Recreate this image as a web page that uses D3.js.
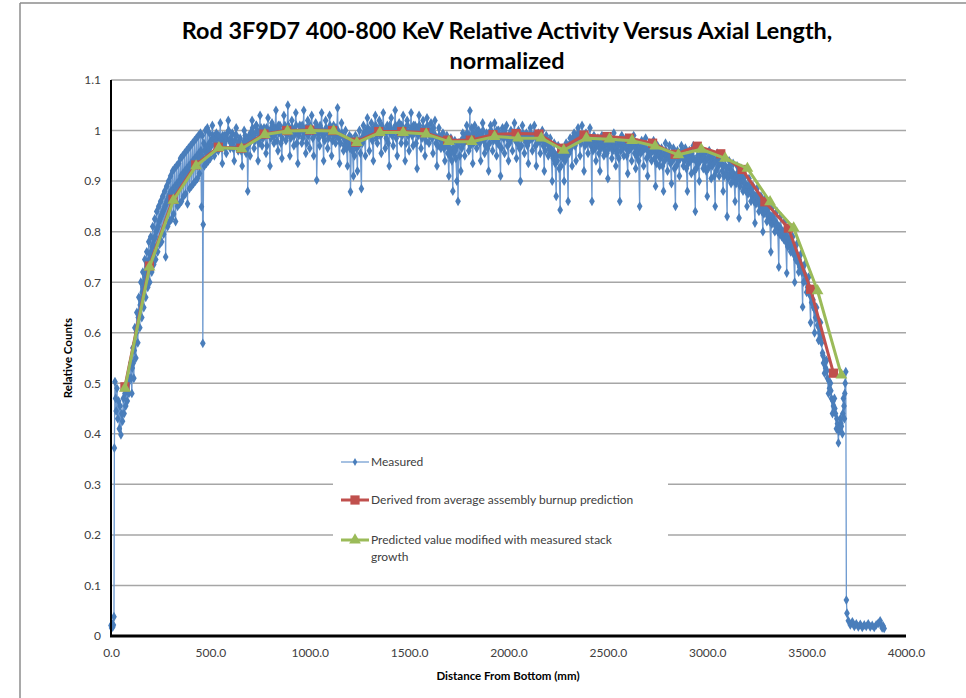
<!DOCTYPE html>
<html><head><meta charset="utf-8">
<script src="https://cdn.jsdelivr.net/npm/d3@7"></script>
<style>body{margin:0;background:#fff;} svg{display:block;font-family:Lato,"Liberation Sans",sans-serif;}</style>
</head><body>
<svg id="chart" width="966" height="698"></svg>
<script>
const titleLines = ["Rod 3F9D7 400-800 KeV Relative Activity Versus Axial Length,", "normalized"];
const xAxisTitle = "Distance From Bottom (mm)";
const yAxisTitle = "Relative Counts";
const yTicks = [0, 0.1, 0.2, 0.3, 0.4, 0.5, 0.6, 0.7, 0.8, 0.9, 1, 1.1];
const yTickLabels = ["0", "0.1", "0.2", "0.3", "0.4", "0.5", "0.6", "0.7", "0.8", "0.9", "1", "1.1"];
const xTicks = [0, 500, 1000, 1500, 2000, 2500, 3000, 3500, 4000];
const xTickLabels = ["0.0", "500.0", "1000.0", "1500.0", "2000.0", "2500.0", "3000.0", "3500.0", "4000.0"];
const seriesNames = ["Measured", "Derived from average assembly burnup prediction", "Predicted value modified with measured stack growth"];

const derivedX = [70, 193, 312, 426, 540, 654, 770, 884, 1000, 1115, 1231, 1347, 1463, 1579, 1694, 1808, 1922, 2038, 2153, 2268, 2380, 2496, 2609, 2725, 2838, 2950, 3068, 3175, 3290, 3408, 3520, 3635];
const derivedY = [0.493, 0.732, 0.864, 0.932, 0.967, 0.965, 0.993, 1.0, 1.001, 1.0, 0.977, 0.998, 0.998, 0.996, 0.981, 0.981, 0.992, 0.994, 0.993, 0.965, 0.991, 0.988, 0.985, 0.975, 0.953, 0.969, 0.954, 0.923, 0.859, 0.807, 0.686, 0.520];
const predictedX = [70, 194, 314, 428, 543, 657, 774, 888, 1005, 1120, 1237, 1353, 1470, 1586, 1700, 1815, 1930, 2048, 2165, 2278, 2392, 2508, 2622, 2738, 2855, 2970, 3090, 3202, 3316, 3435, 3555, 3675];
const predictedY = [0.490, 0.730, 0.862, 0.930, 0.966, 0.964, 0.992, 0.999, 1.0, 0.999, 0.976, 0.996, 0.996, 0.993, 0.978, 0.978, 0.988, 0.985, 0.985, 0.961, 0.985, 0.983, 0.980, 0.969, 0.952, 0.963, 0.945, 0.925, 0.859, 0.807, 0.683, 0.516];

// measured readings [distance mm, relative counts] — band edges and spikes
const measuredEdges = [
[0,0.021],[3,0.016],[6,0.024],[9,0.018],[12,0.022],[15,0.038],[17,0.372],[20,0.503],[23,0.47],
[26,0.445],[30,0.49],[34,0.43],[38,0.465],[42,0.41],[46,0.455],[50,0.398],[54,0.44],[58,0.425],[62,0.47],
[66,0.44],[70,0.48],[74,0.455],[78,0.49],[82,0.465],[86,0.50],[90,0.48],[95,0.51],
[100,0.54],[105,0.48],[110,0.57],[115,0.51],[120,0.61],[125,0.55],[130,0.64],[135,0.58],[140,0.67],[145,0.61],
[150,0.70],[155,0.63],[160,0.72],[165,0.65],[170,0.745],[175,0.67],[180,0.76],[185,0.69],[190,0.78],[195,0.70],
[200,0.79],[205,0.72],[210,0.81],[215,0.735],[220,0.825],[225,0.745],[230,0.84],[235,0.76],[240,0.85],[245,0.775],
[250,0.86],[255,0.78],[260,0.87],[265,0.795],[270,0.88],[275,0.75],[280,0.89],[285,0.81],[290,0.90],[295,0.82],
[300,0.91],[305,0.825],[310,0.92],[315,0.835],[320,0.925],[325,0.82],[330,0.93],[335,0.85],[340,0.935],[345,0.855],
[350,0.945],[355,0.86],[360,0.95],[365,0.87],[370,0.955],[375,0.875],[380,0.96],[385,0.855],[390,0.965],[395,0.885],
[400,0.97],[405,0.89],[410,0.975],[415,0.895],[420,0.98],[425,0.90],[430,0.985],[435,0.905],[440,0.99],[445,0.915],
[450,0.995],[455,0.849],[460,0.99],[462,0.579],[464,0.814],[467,0.975],[470,0.93],[475,1.0],[480,0.935],[485,1.005],
[490,0.94],[495,0.995],[500,0.945],
[510,1.01],[520,0.95],[530,0.995],[540,0.96],[550,1.015],[560,0.935],[570,0.99],[580,0.955],[590,1.02],[600,0.965],
[610,0.995],[620,0.94],[630,1.005],[640,0.96],[650,0.985],[660,0.93],[670,1.0],[680,0.955],[688,0.88],[695,0.99],[700,0.95],
[710,1.02],[720,0.965],[730,1.01],[740,0.94],[750,1.03],[760,0.97],[770,1.005],[780,0.955],[790,1.025],[800,0.93],
[810,1.015],[820,0.975],[830,1.04],[840,0.96],[850,1.01],[860,0.945],[870,1.03],[880,0.98],[890,1.05],[900,0.95],
[910,1.02],[920,0.97],[930,1.035],[940,0.935],[950,1.01],[960,0.975],[970,1.04],[980,0.955],[990,1.02],[1000,0.965],
[1010,1.03],[1020,0.95],[1030,1.015],[1035,0.902],[1040,1.005],[1050,0.97],[1060,1.035],[1070,0.94],[1080,1.02],[1090,0.965],
[1100,1.03],[1110,0.95],[1120,1.01],[1130,0.975],[1140,1.045],[1150,0.935],[1160,1.015],[1170,0.96],[1180,1.0],[1190,0.93],
[1200,0.99],[1205,0.879],[1210,0.985],[1220,0.91],[1230,0.99],[1240,0.92],[1250,1.0],[1260,0.885],[1270,1.01],[1280,0.95],
[1290,1.025],[1300,0.96],[1310,1.015],[1320,0.94],[1330,1.03],[1340,0.975],[1350,1.02],[1360,0.955],[1370,1.035],[1380,0.965],
[1390,1.01],[1400,0.93],[1410,1.025],[1420,0.97],[1430,1.04],[1440,0.95],[1450,1.015],[1460,0.975],[1470,1.03],[1480,0.94],
[1490,1.02],[1500,0.96],[1510,1.035],[1520,0.97],[1530,1.01],[1540,0.925],[1550,1.03],[1560,0.965],[1570,1.02],[1580,0.95],
[1590,1.025],[1600,0.975],[1610,1.015],[1620,0.955],[1630,1.02],[1640,0.93],[1650,1.005],[1660,0.965],[1670,0.995],[1680,0.94],
[1690,0.99],[1700,0.91],[1710,0.985],[1720,0.88],[1730,0.98],[1740,0.90],[1746,0.86],[1750,0.975],[1760,0.92],[1770,0.995],
[1780,0.95],[1790,1.01],[1800,0.96],[1806,1.039],[1808,0.97],[1815,1.005],[1820,0.935],[1830,1.01],[1840,0.965],[1850,1.0],
[1860,0.94],[1870,1.015],[1880,0.955],[1890,0.995],[1900,0.92],[1910,1.01],[1920,0.96],[1930,1.015],[1940,0.95],[1950,1.0],
[1960,0.91],[1970,1.005],[1980,0.955],[1990,1.01],[2000,0.94],[2010,0.995],[2020,0.96],[2030,1.015],[2040,0.945],[2050,1.0],
[2060,0.90],[2070,1.01],[2080,0.955],[2090,0.995],[2100,0.935],[2110,1.005],[2120,0.96],[2130,1.01],[2140,0.93],[2150,0.995],
[2160,0.955],[2170,1.0],[2180,0.92],[2190,0.99],[2200,0.95],[2210,0.985],[2220,0.90],[2230,0.975],[2240,0.87],[2250,0.97],
[2260,0.843],[2270,0.965],[2280,0.90],[2290,0.975],[2300,0.86],[2310,0.985],[2320,0.93],[2330,0.995],[2340,0.94],[2350,1.005],
[2360,0.95],[2370,1.01],[2380,0.92],[2390,0.995],[2400,0.955],[2410,1.005],[2420,0.86],[2430,0.99],[2440,0.94],[2450,0.985],
[2460,0.92],[2470,0.99],[2480,0.95],[2490,0.98],[2500,0.905],[2510,0.985],[2520,0.945],[2530,0.995],[2540,0.93],[2550,0.98],
[2560,0.86],[2570,0.99],[2580,0.95],[2590,0.985],[2600,0.915],[2610,0.98],[2620,0.94],[2630,0.99],[2640,0.925],[2650,0.975],
[2660,0.85],[2670,0.98],[2680,0.93],[2690,0.985],[2700,0.91],[2710,0.975],[2720,0.94],[2730,0.98],[2740,0.89],[2750,0.97],
[2760,0.93],[2770,0.965],[2780,0.88],[2790,0.975],[2800,0.92],[2810,0.97],[2820,0.895],[2830,0.965],[2840,0.85],[2850,0.96],
[2860,0.91],[2870,0.97],[2880,0.93],[2890,0.965],[2900,0.88],[2910,0.96],[2920,0.915],[2930,0.97],[2940,0.84],[2950,0.965],
[2960,0.90],[2970,0.96],[2980,0.925],[2990,0.955],[3000,0.87],[3010,0.96],[3020,0.905],[3030,0.95],[3040,0.85],[3050,0.955],
[3060,0.91],[3070,0.95],[3080,0.88],[3090,0.945],[3100,0.83],[3110,0.94],[3120,0.895],[3130,0.935],[3140,0.86],[3150,0.93],
[3160,0.827],[3170,0.925],[3180,0.88],[3190,0.91],[3200,0.85],[3210,0.905],[3220,0.86],[3230,0.89],[3240,0.817],[3250,0.885],
[3260,0.84],[3270,0.87],[3280,0.80],[3290,0.865],[3300,0.82],[3310,0.855],[3320,0.76],[3330,0.85],[3340,0.80],[3350,0.84],
[3360,0.73],[3370,0.83],[3380,0.79],[3390,0.82],[3400,0.718],[3410,0.805],[3420,0.76],[3430,0.79],[3440,0.70],[3450,0.775],
[3460,0.72],[3470,0.755],[3480,0.651],[3490,0.735],[3500,0.68],[3510,0.71],[3520,0.62],[3530,0.685],[3540,0.60],[3550,0.65],
[3560,0.585],[3570,0.62],[3580,0.56],[3590,0.52],[3600,0.545],[3610,0.48],[3620,0.50],[3630,0.44],[3640,0.47],[3650,0.41],
[3660,0.382],[3670,0.43],[3680,0.40],[3685,0.47],[3690,0.43],[3694,0.50],[3697,0.523],
[3700,0.071],[3703,0.045],[3710,0.03],[3720,0.022],[3730,0.028],[3740,0.019],[3750,0.024],[3760,0.018],[3770,0.023],[3780,0.017],
[3790,0.022],[3800,0.019],[3810,0.024],[3820,0.018],[3830,0.021],[3840,0.017],[3850,0.022],[3860,0.025],[3870,0.03],[3875,0.022],
[3880,0.016],[3885,0.02],[3890,0.015]
];

// measured readings in between — band body
const measuredBody = [
[505,0.97],[515,0.985],[525,0.96],[535,0.99],[545,0.975],[555,0.97],[565,0.985],[575,0.965],[585,0.995],[595,0.98],
[605,0.975],[615,0.965],[625,0.99],[635,0.97],[645,0.98],[655,0.96],[665,0.975],[675,0.99],[685,0.965],[698,0.975],
[705,0.985],[715,0.995],[725,0.98],[735,1.0],[745,0.975],[755,1.005],[765,0.985],[775,0.995],[785,0.97],[795,1.0],
[805,0.985],[815,0.995],[825,1.005],[835,0.98],[845,0.995],[855,0.975],[865,1.0],[875,1.01],[885,0.99],[895,1.005],
[905,0.985],[915,0.995],[925,1.0],[935,0.975],[945,0.99],[955,1.005],[965,0.985],[975,1.0],[985,0.975],[995,0.995],
[1005,1.0],[1015,0.985],[1025,0.995],[1045,0.985],[1055,1.0],[1065,0.99],[1075,0.98],[1085,1.0],[1095,0.985],
[1105,0.995],[1115,0.98],[1125,1.0],[1135,0.99],[1145,0.985],[1155,0.975],[1165,0.99],[1175,0.97],[1185,0.965],[1195,0.975],
[1215,0.96],[1225,0.95],[1235,0.965],[1245,0.97],[1255,0.955],[1265,0.975],[1275,0.985],[1285,0.99],[1295,1.0],
[1305,0.99],[1315,0.98],[1325,1.0],[1335,0.985],[1345,1.0],[1355,0.99],[1365,0.995],[1375,1.0],[1385,0.985],[1395,0.975],
[1405,0.995],[1415,0.99],[1425,1.005],[1435,0.985],[1445,0.995],[1455,1.0],[1465,0.99],[1475,1.0],[1485,0.975],[1495,0.99],
[1505,1.0],[1515,0.99],[1525,0.995],[1535,0.975],[1545,0.99],[1555,1.0],[1565,0.985],[1575,0.995],[1585,0.98],[1595,0.995],
[1605,0.99],[1615,0.985],[1625,0.99],[1635,0.975],[1645,0.97],[1655,0.985],[1665,0.975],[1675,0.965],[1685,0.97],[1695,0.955],
[1705,0.95],[1715,0.94],[1725,0.955],[1735,0.945],[1755,0.95],[1765,0.965],[1775,0.975],[1785,0.98],[1795,0.985],
[1825,0.975],[1835,0.985],[1845,0.98],[1855,0.975],[1865,0.99],[1875,0.98],[1885,0.97],[1895,0.965],
[1905,0.975],[1915,0.99],[1925,0.98],[1935,0.985],[1945,0.975],[1955,0.97],[1965,0.965],[1975,0.985],[1985,0.99],[1995,0.97],
[2005,0.975],[2015,0.985],[2025,0.99],[2035,0.98],[2045,0.975],[2055,0.965],[2065,0.97],[2075,0.985],[2085,0.98],[2095,0.97],
[2105,0.98],[2115,0.985],[2125,0.99],[2135,0.97],[2145,0.975],[2155,0.98],[2165,0.985],[2175,0.97],[2185,0.96],[2195,0.975],
[2205,0.965],[2215,0.955],[2225,0.945],[2235,0.935],[2245,0.94],[2255,0.925],[2265,0.93],[2275,0.945],[2285,0.94],[2295,0.95],
[2305,0.955],[2315,0.965],[2325,0.975],[2335,0.97],[2345,0.98],[2355,0.985],[2365,0.975],[2375,0.99],[2385,0.97],[2395,0.975],
[2405,0.98],[2415,0.97],[2425,0.96],[2435,0.965],[2445,0.97],[2455,0.955],[2465,0.965],[2475,0.97],[2485,0.96],[2495,0.955],
[2505,0.965],[2515,0.97],[2525,0.96],[2535,0.97],[2545,0.955],[2555,0.945],[2565,0.96],[2575,0.965],[2585,0.97],[2595,0.95],
[2605,0.96],[2615,0.965],[2625,0.97],[2635,0.955],[2645,0.95],[2655,0.94],[2665,0.955],[2675,0.96],[2685,0.965],[2695,0.945],
[2705,0.95],[2715,0.955],[2725,0.96],[2735,0.945],[2745,0.935],[2755,0.95],[2765,0.945],[2775,0.93],[2785,0.94],[2795,0.95],
[2805,0.945],[2815,0.935],[2825,0.94],[2835,0.925],[2845,0.93],[2855,0.94],[2865,0.945],[2875,0.95],[2885,0.94],[2895,0.925],
[2905,0.935],[2915,0.94],[2925,0.945],[2935,0.92],[2945,0.925],[2955,0.935],[2965,0.94],[2975,0.945],[2985,0.93],[2995,0.92],
[3005,0.925],[3015,0.935],[3025,0.93],[3035,0.91],[3045,0.92],[3055,0.93],[3065,0.935],[3075,0.92],[3085,0.91],[3095,0.915],
[3105,0.905],[3115,0.915],[3125,0.91],[3135,0.90],[3145,0.895],[3155,0.905],[3165,0.89],[3175,0.90],[3185,0.885],[3195,0.88],
[3205,0.875],[3215,0.88],[3225,0.87],[3235,0.86],[3245,0.855],[3255,0.86],[3265,0.85],[3275,0.84],[3285,0.835],[3295,0.84],
[3305,0.83],[3315,0.82],[3325,0.815],[3335,0.82],[3345,0.81],[3355,0.80],[3365,0.795],[3375,0.79],[3385,0.785],[3395,0.78],
[3405,0.77],[3415,0.775],[3425,0.765],[3435,0.755],[3445,0.745],[3455,0.74],[3465,0.73],[3475,0.72],[3485,0.70],[3495,0.705],
[3505,0.69],[3515,0.675],[3525,0.66],[3535,0.65],[3545,0.63],[3555,0.615],[3565,0.60],[3575,0.58],[3585,0.54],[3595,0.53],
[3605,0.51],[3615,0.49],[3625,0.47],[3635,0.455],[3645,0.44],[3655,0.42],[3665,0.41],[3675,0.415]
];

// further measured readings — upper band body
const measuredUpper = [
[102,0.51],[107,0.53],[112,0.54],[117,0.565],[122,0.58],[127,0.60],[132,0.61],[137,0.63],[142,0.64],[147,0.655],
[152,0.665],[157,0.68],[162,0.69],[167,0.70],[172,0.71],[177,0.715],[182,0.73],[187,0.735],[192,0.745],[197,0.755],
[202,0.76],[207,0.77],[212,0.775],[217,0.785],[222,0.79],[227,0.80],[232,0.805],[237,0.81],[242,0.82],[247,0.825],
[252,0.83],[257,0.835],[262,0.84],[267,0.845],[272,0.85],[277,0.855],[282,0.86],[287,0.865],[292,0.87],[297,0.875],
[302,0.88],[307,0.87],[312,0.885],[317,0.875],[322,0.89],[327,0.88],[332,0.895],[337,0.89],[342,0.90],[347,0.895],
[352,0.91],[357,0.90],[362,0.915],[367,0.905],[372,0.92],[377,0.91],[382,0.925],[387,0.915],[392,0.93],[397,0.92],
[402,0.935],[407,0.925],[412,0.94],[417,0.93],[422,0.945],[427,0.935],[432,0.95],[437,0.94],[442,0.955],[447,0.945],
[452,0.96],[457,0.95],[472,0.96],[477,0.965],[482,0.955],[487,0.97],[492,0.96],[497,0.975],
[502,0.98],[512,0.99],[522,0.975],[532,0.985],[542,0.99],[552,0.98],[562,0.99],[572,0.975],[582,0.985],[592,1.0],
[602,0.985],[612,0.975],[622,0.98],[632,0.99],[642,0.975],[652,0.97],[662,0.965],[672,0.98],[682,0.975],[692,0.985],
[702,0.995],[712,1.005],[722,0.99],[732,1.01],[742,0.995],[752,0.985],[762,1.0],[772,0.99],[782,1.005],[792,0.995],
[802,1.0],[812,1.01],[822,0.99],[832,1.0],[842,1.01],[852,0.995],[862,0.985],[872,1.005],[882,0.995],[892,1.01],
[902,1.0],[912,1.005],[922,0.99],[932,1.01],[942,0.995],[952,1.0],[962,1.01],[972,0.995],[982,1.005],[992,0.99],
[1002,1.01],[1012,1.0],[1022,0.99],[1032,1.005],[1042,0.995],[1052,1.01],[1062,1.0],[1072,0.99],[1082,1.005],[1092,0.995],
[1102,1.01],[1112,1.0],[1122,0.99],[1132,1.005],[1142,1.0],[1152,0.99],[1162,0.995],[1172,0.985],[1182,0.98],[1192,0.97],
[1202,0.965],[1212,0.97],[1222,0.975],[1232,0.97],[1242,0.98],[1252,0.975],[1262,0.985],[1272,0.995],[1282,1.0],[1292,1.005],
[1302,1.0],[1312,0.995],[1322,1.005],[1332,1.01],[1342,0.995],[1352,1.005],[1362,1.01],[1372,1.0],[1382,0.995],[1392,1.005],
[1402,1.01],[1412,1.0],[1422,0.995],[1432,1.01],[1442,1.005],[1452,0.995],[1462,1.01],[1472,1.0],[1482,1.005],[1492,1.01],
[1502,0.995],[1512,1.005],[1522,1.01],[1532,1.0],[1542,1.005],[1552,1.01],[1562,0.995],[1572,1.005],[1582,1.0],[1592,1.01],
[1602,1.0],[1612,0.995],[1622,1.005],[1632,0.99],[1642,0.985],[1652,0.99],[1662,0.98],[1672,0.985],[1682,0.975],[1692,0.97],
[1702,0.965],[1712,0.96],[1722,0.965],[1732,0.96],[1742,0.97],[1752,0.975],[1762,0.98],[1772,0.985],[1782,0.99],[1792,0.995],
[1802,0.99],[1812,0.985],[1822,0.995],[1832,0.99],[1842,1.0],[1852,0.99],[1862,0.995],[1872,1.0],[1882,0.985],[1892,0.99],
[1902,0.995],[1912,1.0],[1922,0.99],[1932,0.995],[1942,1.0],[1952,0.985],[1962,0.99],[1972,0.995],[1982,1.0],[1992,0.985],
[2002,0.99],[2012,1.0],[2022,0.995],[2032,0.99],[2042,0.995],[2052,0.985],[2062,0.99],[2072,0.995],[2082,0.99],[2092,0.98],
[2102,0.99],[2112,0.995],[2122,0.985],[2132,0.99],[2142,0.985],[2152,0.99],[2162,0.98],[2172,0.985],[2182,0.975],[2192,0.98],
[2202,0.97],[2212,0.965],[2222,0.96],[2232,0.955],[2242,0.95],[2252,0.955],[2262,0.95],[2272,0.96],[2282,0.955],[2292,0.965],
[2302,0.97],[2312,0.975],[2322,0.985],[2332,0.98],[2342,0.99],[2352,0.995],[2362,0.99],[2372,0.985],[2382,0.99],[2392,0.98],
[2402,0.985],[2412,0.98],[2422,0.975],[2432,0.98],[2442,0.975],[2452,0.97],[2462,0.975],[2472,0.98],[2482,0.97],[2492,0.975],
[2502,0.97],[2512,0.975],[2522,0.98],[2532,0.975],[2542,0.965],[2552,0.97],[2562,0.975],[2572,0.97],[2582,0.975],[2592,0.965],
[2602,0.97],[2612,0.975],[2622,0.98],[2632,0.97],[2642,0.965],[2652,0.96],[2662,0.965],[2672,0.97],[2682,0.975],[2692,0.965],
[2702,0.96],[2712,0.965],[2722,0.97],[2732,0.96],[2742,0.955],[2752,0.96],[2762,0.955],[2772,0.95],[2782,0.955],[2792,0.96],
[2802,0.955],[2812,0.95],[2822,0.955],[2832,0.945],[2842,0.95],[2852,0.955],[2862,0.955],[2872,0.96],[2882,0.955],[2892,0.945],
[2902,0.95],[2912,0.955],[2922,0.955],[2932,0.945],[2942,0.94],[2952,0.95],[2962,0.95],[2972,0.955],[2982,0.945],[2992,0.94],
[3002,0.945],[3012,0.95],[3022,0.945],[3032,0.935],[3042,0.94],[3052,0.945],[3062,0.945],[3072,0.935],[3082,0.93],[3092,0.93],
[3102,0.925],[3112,0.93],[3122,0.92],[3132,0.915],[3142,0.91],[3152,0.915],[3162,0.905],[3172,0.91],[3182,0.90],[3192,0.895],
[3202,0.89],[3212,0.89],[3222,0.88],[3232,0.875],[3242,0.87],[3252,0.87],[3262,0.86],[3272,0.855],[3282,0.85],[3292,0.85],
[3302,0.845],[3312,0.835],[3322,0.83],[3332,0.83],[3342,0.82],[3352,0.815],[3362,0.81],[3372,0.805],[3382,0.80],[3392,0.795],
[3402,0.79],[3412,0.785],[3422,0.775],[3432,0.77],[3442,0.76],[3452,0.755],[3462,0.745],[3472,0.735],[3482,0.72],[3492,0.715],
[3502,0.70],[3512,0.69],[3522,0.675],[3532,0.665],[3542,0.645],[3552,0.63],[3562,0.61],[3572,0.59],[3582,0.555],[3592,0.545],
[3602,0.525],[3612,0.505],[3622,0.485],[3632,0.465],[3642,0.45],[3652,0.43],[3662,0.405],[3672,0.42],[3682,0.44],[3688,0.455],[3692,0.48]
];

const measured = measuredEdges.concat(measuredBody, measuredUpper).sort((a, b) => a[0] - b[0]);

const colors = { measured: "#4A7EBB", measuredLine: "#6b98cf", derived: "#C0504D", predicted: "#9BBB59" };

const svg = d3.select("#chart");
const x = d3.scaleLinear().domain([0, 4000]).range([111, 906]);
const y = d3.scaleLinear().domain([0, 1.1]).range([636, 80]);

// outer frame
svg.append("line").attr("x1", 20).attr("x2", 20).attr("y1", 3).attr("y2", 698).attr("stroke", "#8c8c8c").attr("stroke-width", 1.5);
svg.append("line").attr("x1", 20).attr("x2", 966).attr("y1", 3).attr("y2", 3).attr("stroke", "#8c8c8c").attr("stroke-width", 1.5);

// title
const title = svg.append("g").attr("font-weight", "bold").attr("fill", "#000").attr("text-anchor", "middle");
const t1 = title.append("text").attr("x", 507).attr("y", 39).attr("font-size", 20).text(titleLines[0]);
const w1 = t1.node().getComputedTextLength();
const fs = 20 * 651 / w1;
t1.attr("font-size", fs);
title.append("text").attr("x", 507).attr("y", 69).attr("font-size", fs).text(titleLines[1]);

// gridlines
svg.append("g").selectAll("line").data(yTicks.filter(d => d > 0)).join("line")
  .attr("x1", x(0)).attr("x2", x(4000))
  .attr("y1", d => y(d)).attr("y2", d => y(d))
  .attr("stroke", "#a6a6a6").attr("stroke-width", 1.5);

// axes
const yAxis = d3.axisLeft(y).tickValues(yTicks).tickSize(0).tickPadding(10)
  .tickFormat((d, i) => yTickLabels[i]);
const gy = svg.append("g").attr("transform", `translate(${x(0)},0)`).call(yAxis);
gy.select(".domain").remove();
gy.selectAll("text").attr("font-size", 12).attr("fill", "#404040").attr("font-family", "Lato, sans-serif");

const xAxis = d3.axisBottom(x).tickValues(xTicks).tickSize(0).tickPadding(12)
  .tickFormat((d, i) => xTickLabels[i]);
const gx = svg.append("g").attr("transform", `translate(0,${y(0)})`).call(xAxis);
gx.select(".domain").remove();
gx.selectAll("text").attr("font-size", 12).attr("fill", "#404040").attr("font-family", "Lato, sans-serif");

// axis titles
svg.append("text").attr("x", 508).attr("y", 680).attr("text-anchor", "middle")
  .attr("font-size", 11.5).attr("font-weight", "bold").attr("fill", "#000").text(xAxisTitle);
svg.append("text").attr("transform", "translate(72,358) rotate(-90)").attr("text-anchor", "middle")
  .attr("font-size", 11.5).attr("font-weight", "bold").attr("fill", "#000").text(yAxisTitle);

// measured series
const line = d3.line().x(d => x(d[0])).y(d => y(d[1]));
svg.append("path").datum(measured).attr("d", line).attr("fill", "none")
  .attr("stroke", colors.measuredLine).attr("stroke-width", 1.3);
const diamond = d3.symbol(d3.symbolDiamond, 28);
svg.append("g").selectAll("path").data(measured).join("path")
  .attr("transform", d => `translate(${x(d[0])},${y(d[1])})`)
  .attr("d", diamond).attr("fill", colors.measured);

// derived and predicted series
const derived = derivedX.map((d, i) => [d, derivedY[i]]);
const predicted = predictedX.map((d, i) => [d, predictedY[i]]);
svg.append("path").datum(derived).attr("d", line).attr("fill", "none")
  .attr("stroke", colors.derived).attr("stroke-width", 3).attr("stroke-linejoin", "round");
const square = d3.symbol(d3.symbolSquare, 85);
svg.append("g").selectAll("path").data(derived).join("path")
  .attr("transform", d => `translate(${x(d[0])},${y(d[1])})`)
  .attr("d", square).attr("fill", colors.derived);

svg.append("path").datum(predicted).attr("d", line).attr("fill", "none")
  .attr("stroke", colors.predicted).attr("stroke-width", 3).attr("stroke-linejoin", "round");
const tri = d3.symbol(d3.symbolTriangle, 60);
svg.append("g").selectAll("path").data(predicted).join("path")
  .attr("transform", d => `translate(${x(d[0])},${y(d[1])})`)
  .attr("d", tri).attr("fill", colors.predicted);

// axis lines
svg.append("line").attr("x1", x(0)).attr("x2", x(0)).attr("y1", y(1.1)).attr("y2", y(0))
  .attr("stroke", "#000").attr("stroke-width", 2);
svg.append("line").attr("x1", x(0) - 1).attr("x2", x(4000)).attr("y1", y(0)).attr("y2", y(0))
  .attr("stroke", "#000").attr("stroke-width", 3);

// legend
const lg = svg.append("g");
lg.append("rect").attr("x", 333).attr("y", 445).attr("width", 335).attr("height", 125).attr("fill", "#fff");
const legendRows = [
  { y: 462, color: colors.measured, sym: d3.symbol(d3.symbolDiamond, 18), w: 1.2, lines: [seriesNames[0]] },
  { y: 500, color: colors.derived, sym: square, w: 3, lines: [seriesNames[1]] },
  { y: 540, color: colors.predicted, sym: tri, w: 3, lines: ["Predicted value modified with measured stack", "growth"] }
];
legendRows.forEach(r => {
  lg.append("line").attr("x1", 341).attr("x2", 369).attr("y1", r.y).attr("y2", r.y)
    .attr("stroke", r.y === 462 ? colors.measuredLine : r.color).attr("stroke-width", r.w);
  lg.append("path").attr("transform", `translate(355,${r.y})`).attr("d", r.sym).attr("fill", r.color);
  r.lines.forEach((t, j) => {
    lg.append("text").attr("x", 371).attr("y", r.y + 4 + j * 17).attr("font-size", 12)
      .attr("fill", "#404040").text(t);
  });
});
</script>
</body></html>
